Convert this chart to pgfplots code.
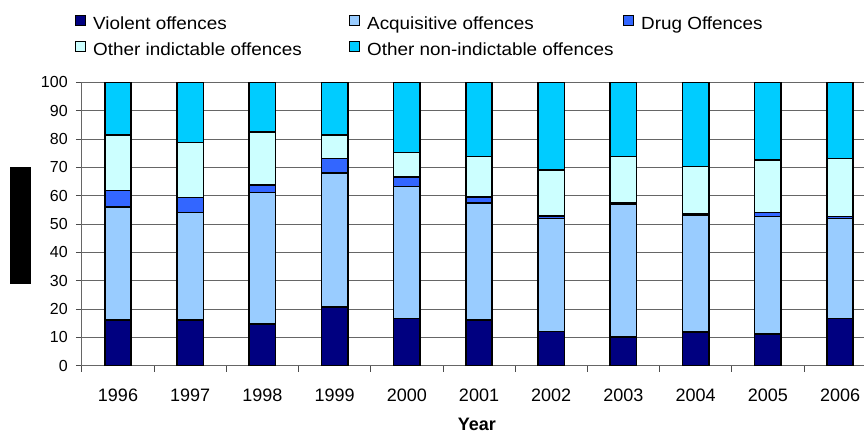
\documentclass[border=0pt]{standalone}
\usepackage{pgfplots}
\pgfplotsset{compat=1.18}
\usepackage{pgfplotstable}
\usepackage{graphicx}
\usepackage{fontspec}
\setmainfont{Liberation Sans}
\definecolor{viol}{HTML}{000080}
\definecolor{acq}{HTML}{99CCFF}
\definecolor{drug}{HTML}{3366FF}
\definecolor{oind}{HTML}{CCFFFF}
\definecolor{onon}{HTML}{00CCFF}
\newcommand{\legtxt}[1]{\hspace*{7pt}\makebox[256pt][l]{\scalebox{1.18}[1.1]{#1}}}
\pgfplotstableread{
x viol acq drug oind onon
0 16.1 40.0 5.7 19.7 18.5
1 16.1 37.9 5.3 19.5 21.2
2 14.7 46.4 2.7 18.6 17.6
3 20.8 47.3 5.0 8.4 18.5
4 16.7 46.5 3.4 8.6 24.8
5 16.1 41.4 2.1 14.2 26.2
6 12.0 40.0 0.8 16.3 30.9
7 10.2 46.7 0.6 16.3 26.2
8 11.8 41.4 0.3 16.8 29.7
9 11.1 41.5 1.4 18.5 27.5
10 16.6 35.3 0.7 20.5 26.9
}\data
\begin{document}
\begin{tikzpicture}
\begin{axis}[
  scale only axis, width=782.1pt, height=283.4pt,
  ybar stacked, bar width=26.5pt,
  xmin=-0.5, xmax=10.332, ymin=0, ymax=100,
  axis lines=left,
  axis line style={-, draw=black!60, line width=0.8pt},
  xtick={0,...,10},
  xticklabels={1996,1997,1998,1999,2000,2001,2002,2003,2004,2005,2006},
  major x tick style={draw=none},
  minor xtick={-0.5,0.5,...,9.5},
  minor tick length=6pt, major tick length=6pt,
  tick align=outside,
  tick style={black!70, line width=0.8pt},
  ytick={0,10,...,100},
  ymajorgrids, grid style={black!60, line width=0.8pt},
  /pgf/number format/assume math mode=true,
  xticklabel style={font=\fontsize{18}{18}\selectfont, yshift=-14pt},
  yticklabel style={font=\fontsize{16}{16}\selectfont, xshift=-4.7pt},
  xlabel={\textbf{Year}},
  xlabel style={at={(axis description cs:0.505,-0.2285)}, anchor=base, inner sep=0pt, font=\fontsize{18}{18}\selectfont},
  ylabel={\rule{117pt}{21pt}},
  ylabel style={at={(axis description cs:-0.0785,0.4954)}, anchor=center, inner sep=0pt},
  legend columns=3,
  legend cell align=left,
  legend image code/.code={\draw[#1, draw=black, line width=1pt] (0pt,0pt) rectangle (10pt,10pt);},
  legend style={at={(axis description cs:-0.0088,1.2375)}, anchor=north west, draw=none, fill=none,
    inner sep=0pt, column sep=0pt, row sep=7.5pt,
    nodes={inner sep=0pt, text height=12pt, text depth=4pt, font=\fontsize{16}{16}\selectfont}},
]
\addplot[fill=viol, draw=black, line width=1.6pt] table[x=x, y=viol] {\data};
\addlegendentry{\legtxt{Violent offences}}
\addplot[fill=acq, draw=black, line width=1.6pt] table[x=x, y=acq] {\data};
\addlegendentry{\legtxt{Acquisitive offences}}
\addplot[fill=drug, draw=black, line width=1.6pt] table[x=x, y=drug] {\data};
\addlegendentry{\legtxt{Drug Offences}}
\addplot[fill=oind, draw=black, line width=1.6pt] table[x=x, y=oind] {\data};
\addlegendentry{\legtxt{Other indictable offences}}
\addplot[fill=onon, draw=black, line width=1.6pt] table[x=x, y=onon] {\data};
\addlegendentry{\legtxt{Other non-indictable offences}}
\end{axis}
\pgfresetboundingbox
\useasboundingbox ([xshift=-81.9pt,yshift=-68.3pt]current axis.south west) rectangle ([yshift=82.3pt]current axis.north east);
\end{tikzpicture}
\end{document}
